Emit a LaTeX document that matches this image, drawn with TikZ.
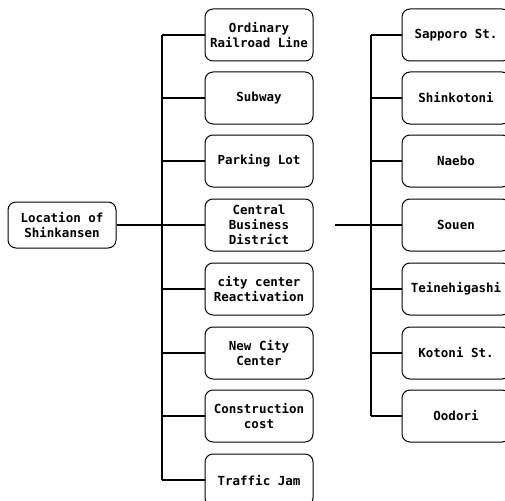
\documentclass[tikz,border=0pt]{standalone}
\usepackage{fontspec}
\newfontfamily\boxfont{DejaVu Sans Mono}

\tikzset{
  itembox/.style = {draw, line width = 1pt, rounded corners = 8pt, align = center,
    minimum width = 108pt, minimum height = 52pt, inner sep = 0pt,
    font = \boxfont\bfseries\fontsize{12.5}{15}\selectfont},
  link/.style = {line width = 2pt}
}

\begin{document}
\begin{tikzpicture}[x = 1pt, y = -1pt]
        \useasboundingbox (0, 0) rectangle (505, 500);

        % root
        \node[itembox, minimum height = 46pt] (loc) at (62, 225) {Location of\\Shinkansen};

        % middle column
        \node[itembox] (ord) at (259, 35) {Ordinary\\Railroad Line};
        \node[itembox] (sub) at (259, 98) {Subway};
        \node[itembox] (park) at (259, 161) {Parking Lot};
        \node[itembox] (cbd) at (259, 225) {Central\\Business\\District};
        \node[itembox] (react) at (259, 289) {city center\\Reactivation};
        \node[itembox] (newc) at (259, 353) {New City\\Center};
        \node[itembox] (cost) at (259, 416) {Construction\\cost};
        \node[itembox] (jam) at (259, 480) {Traffic Jam};

        % right column
        \node[itembox] (sap) at (456, 35) {Sapporo St.};
        \node[itembox] (shin) at (456, 98) {Shinkotoni};
        \node[itembox] (nae) at (456, 161) {Naebo};
        \node[itembox] (sou) at (456, 225) {Souen};
        \node[itembox] (tei) at (456, 289) {Teinehigashi};
        \node[itembox] (kot) at (456, 353) {Kotoni St.};
        \node[itembox] (ood) at (456, 416) {Oodori};

        \coordinate (midbus) at (162, 0);
        \coordinate (rightbus) at (371, 0);
        \coordinate (rstart) at (335, 225);

        % connectors
        \draw[link] (loc.east) -- (cbd.west);
        \draw[link] (ord.west -| midbus) -- (jam.west -| midbus);
        \foreach \n in {ord, sub, park, react, newc, cost, jam}
          \draw[link] (\n.west -| midbus) -- (\n.west);

        \draw[link] (rstart) -- (sou.west);
        \draw[link] (sap.west -| rightbus) -- (ood.west -| rightbus);
        \foreach \n in {sap, shin, nae, tei, kot, ood}
          \draw[link] (\n.west -| rightbus) -- (\n.west);
      \end{tikzpicture}
\end{document}
